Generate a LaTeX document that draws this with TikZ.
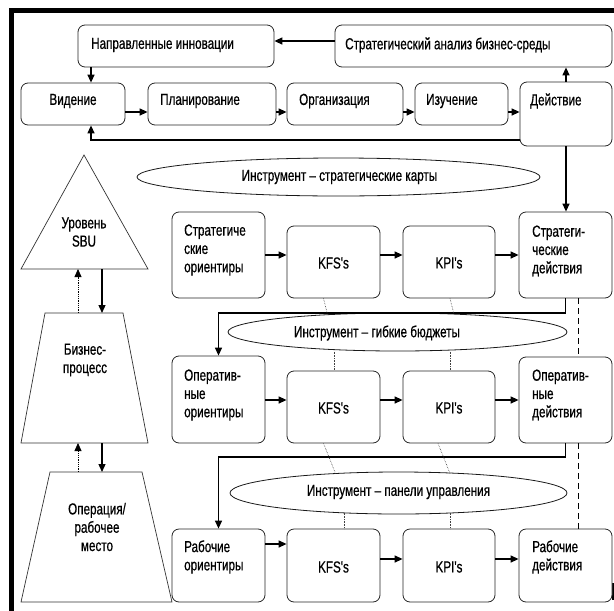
\documentclass[tikz,border=0pt]{standalone}
\usepackage{fontspec}
\setmainfont{Liberation Sans}[FakeStretch=0.73, FakeBold=0.6, Ligatures=TeXOff]
\usetikzlibrary{arrows.meta,shapes.geometric,calc}
\begin{document}
\begin{tikzpicture}[x=1pt,y=-1pt,
  box/.style={draw=black!85, line width=0.8pt, rounded corners=7pt, fill=white, inner sep=0pt},
  ell/.style={ellipse, draw=black!90, line width=0.8pt, inner sep=0pt},
  txt/.style={inner sep=0pt, align=left, anchor=west, font=\fontsize{16pt}{18.3pt}\selectfont},
  ctxt/.style={inner sep=0pt, align=center, font=\fontsize{16pt}{18.3pt}\selectfont},
  ln/.style={line width=1.3pt},
  arr/.style={line width=1.3pt, -{Triangle[length=8pt,width=7pt]}},
  dotl/.style={densely dotted, line width=0.6pt, draw=black!75},
  dotarr/.style={densely dotted, line width=0.8pt, -{Triangle[length=8pt,width=7pt]}},
  dsh/.style={line width=0.9pt, dash pattern=on 6pt off 4pt},
  geo/.style={draw=black!80, line width=0.7pt}]
\useasboundingbox (0,0) rectangle (614,611);
% frame
\fill (9,8) rectangle (614,13);
\fill (9,8) rectangle (14,611);
\draw[line width=2pt] (613,583) -- (613,600);

% top boxes
\node[box, minimum width=196pt, minimum height=42pt] (innov) at (176,46) {};
\node[box, minimum width=277pt, minimum height=42pt] (anal) at (473.5,46) {};
\node[box, minimum width=104pt, minimum height=42pt] (vid) at (73,104) {};
\node[box, minimum width=128pt, minimum height=42pt] (plan) at (212,104) {};
\node[box, minimum width=116pt, minimum height=42pt] (org) at (345,104) {};
\node[box, minimum width=93pt, minimum height=42pt] (izu) at (461.5,104) {};
\node[box, minimum width=92pt, minimum height=64pt] (dej) at (566,114) {};

\node[txt] (t-innov) at (91,45) {Направленные инновации};
\node[txt] (t-anal) at (345,45) {Стратегический анализ бизнес-среды};
\node[ctxt] (t-vid) at (73,101) {Видение};
\node[txt] (t-plan) at (160,101) {Планирование};
\node[txt] (t-org) at (299,101) {Организация};
\node[txt] (t-izu) at (426,101) {Изучение};
\node[txt] (t-dej) at (530,101) {Действие};

% top connectors
\coordinate (yarr) at (0,41);
\draw[arr] (anal.west |- yarr) -- (innov.east |- yarr);
\coordinate (xv) at (91,0);
\draw[arr] (innov.south -| xv) -- (vid.north -| xv);
\coordinate (yr) at (0,112);
\draw[arr] (vid.east |- yr) -- (plan.west |- yr);
\draw[arr] (plan.east |- yr) -- (org.west |- yr);
\draw[arr] (org.east |- yr) -- (izu.west |- yr);
\draw[arr] (izu.east |- yr) -- (dej.west |- yr);
\draw[arr] (dej.north) -- (dej.north |- anal.south);
\coordinate (fb) at (91,140);
\draw[arr] (dej.west |- fb) -- (fb) -- (vid.south -| fb);

% ellipses
\node[ell, minimum width=403pt, minimum height=38pt] (e1) at (338.5,177) {};
\node[ell, minimum width=339pt, minimum height=38pt] (e2) at (397.5,332) {};
\node[ell, minimum width=337pt, minimum height=42pt] (e3) at (398.5,493) {};
\node[ctxt] (t-e1) at (339.5,177) {Инструмент – стратегические карты};
\node[ctxt] (t-e2) at (377,333) {Инструмент – гибкие бюджеты};
\node[ctxt] (t-e3) at (398.5,492) {Инструмент – панели управления};

% rows
\node[box, minimum width=93pt, minimum height=86pt] (sor) at (218.5,255) {};
\node[box, minimum width=93pt, minimum height=72pt] (kfs1) at (333.5,262) {};
\node[box, minimum width=92pt, minimum height=72pt] (kpi1) at (449,262) {};
\node[box, minimum width=93pt, minimum height=86pt] (sdej) at (565.5,255) {};

\node[box, minimum width=93pt, minimum height=87pt] (oor) at (218.5,399.5) {};
\node[box, minimum width=93pt, minimum height=72pt] (kfs2) at (333.5,407) {};
\node[box, minimum width=92pt, minimum height=72pt] (kpi2) at (449,407) {};
\node[box, minimum width=93pt, minimum height=86pt] (odej) at (565.5,400) {};

\node[box, minimum width=93pt, minimum height=73pt] (ror) at (218.5,565.5) {};
\node[box, minimum width=93pt, minimum height=73pt] (kfs3) at (333.5,565.5) {};
\node[box, minimum width=92pt, minimum height=73pt] (kpi3) at (449,565.5) {};
\node[box, minimum width=93pt, minimum height=73pt] (rdej) at (565.5,565.5) {};

\node[txt] (t-sor) at (184,250) {Стратегиче\\ские\\ориентиры};
\node[ctxt] (t-kfs1) at (333.5,263) {KFS's};
\node[ctxt] (t-kpi1) at (449,263) {KPI's};
\node[txt] (t-sdej) at (532,251) {Стратеги-\\ческие\\действия};
\node[txt] (t-oor) at (184,395) {Оператив-\\ные\\ориентиры};
\node[ctxt] (t-kfs2) at (333.5,408) {KFS's};
\node[ctxt] (t-kpi2) at (449,408) {KPI's};
\node[txt] (t-odej) at (532,395) {Оператив-\\ные\\действия};
\node[txt] (t-ror) at (184,557) {Рабочие\\ориентиры};
\node[ctxt] (t-kfs3) at (333.5,567) {KFS's};
\node[ctxt] (t-kpi3) at (449,567) {KPI's};
\node[txt] (t-rdej) at (532,557) {Рабочие\\действия};

% row arrows
\draw[arr] (sor.east) -- (sor.east -| kfs1.west);
\draw[arr] (kfs1.east |- sor.east) -- (kpi1.west |- sor.east);
\draw[arr] (kpi1.east |- sor.east) -- (sdej.west |- sor.east);
\coordinate (y2) at (0,400);
\draw[arr] (oor.east |- y2) -- (kfs2.west |- y2);
\draw[arr] (kfs2.east |- y2) -- (kpi2.west |- y2);
\draw[arr] (kpi2.east |- y2) -- (odej.west |- y2);
\coordinate (y3a) at (0,544);
\coordinate (y3b) at (0,559);
\draw[arr] (ror.east |- y3a) -- (kfs3.west |- y3a);
\draw[arr] (kfs3.east |- y3b) -- (kpi3.west |- y3b);
\draw[arr] (kpi3.east |- y3b) -- (rdej.west |- y3b);

% vertical connectors
\draw[arr] (dej.south) -- (dej.south |- sdej.north);
\coordinate (j1) at (218.5,313);
\draw[arr] (sdej.south) |- (j1) -- (oor.north);
\coordinate (j2) at (218.5,457);
\draw[arr] (odej.south) |- (j2) -- (ror.north);
\coordinate (xd) at (578,0);
\draw[dsh] (sdej.south -| xd) -- (odej.north -| xd);
\draw[dsh] (odej.south -| xd) -- (rdej.north -| xd);

% dotted links
\draw[dotl] ($(kfs1.south)+(-10,0)$) -- ($(kfs1.south)+(-6,16)$);
\draw[dotl] ($(kpi1.south)+(1,0)$) -- ($(kpi1.south)+(5,16)$);
\draw[dotl] ($(kfs2.north)+(1,-19)$) -- ($(kfs2.north)+(1,0)$);
\draw[dotl] ($(kpi2.north)+(1,-19)$) -- ($(kpi2.north)+(1,0)$);
\draw[dotl] ($(kfs2.south)+(-10,0)$) -- ($(kfs2.south)+(2,30)$);
\draw[dotl] ($(kpi2.south)+(-11,0)$) -- ($(kpi2.south)+(1,30)$);
\draw[dotl] ($(kfs3.north)+(11,-16)$) -- ($(kfs3.north)+(11,0)$);
\draw[dotl] ($(kpi3.north)+(1,-16)$) -- ($(kpi3.north)+(1,0)$);

% left column shapes
\draw[geo] (84,155) -- (148,269) -- (21,269) -- cycle;
\draw[geo] (45,313) -- (123,313) -- (148,443) -- (21,443) -- cycle;
\draw[geo] (50,472) -- (142,472) -- (172,602) -- (21,602) -- cycle;
\node[ctxt] (t-tri) at (84,232) {Уровень\\SBU};
\node[ctxt] (t-bp) at (85,360) {Бизнес-\\процесс};
\node[ctxt] (t-op) at (97,527) {Операция/\\рабочее\\место};

\coordinate (a1t) at (78,269);
\coordinate (a1b) at (78,313);
\coordinate (b1t) at (102,269);
\coordinate (b1b) at (102,313);
\draw[dotarr] (a1b) -- (a1t);
\draw[arr] (b1t) -- (b1b);
\coordinate (a2t) at (78,443);
\coordinate (a2b) at (78,472);
\coordinate (b2t) at (102,443);
\coordinate (b2b) at (102,472);
\draw[dotarr] (a2b) -- (a2t);
\draw[arr] (b2t) -- (b2b);
\end{tikzpicture}
\end{document}
